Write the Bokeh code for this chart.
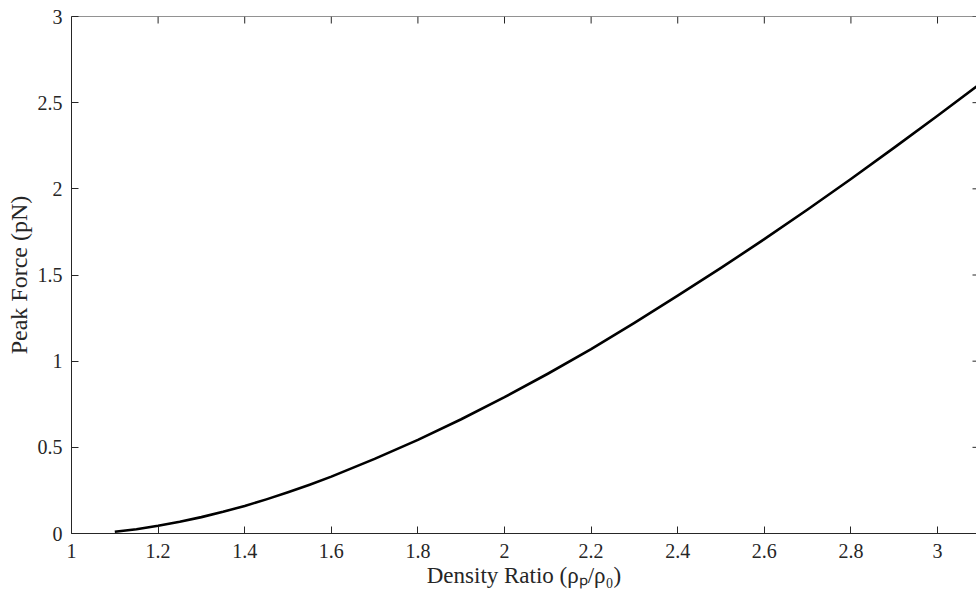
import math
from bokeh.plotting import figure
from bokeh.models import FixedTicker, Range1d, Span
from bokeh.embed import file_html
from bokeh.resources import INLINE

# Data
density_ratio = [1.1, 1.15, 1.2, 1.25, 1.3, 1.35, 1.4, 1.45, 1.5, 1.55, 1.6, 1.7, 1.8, 1.9, 2.0,
                 2.1, 2.2, 2.3, 2.4, 2.5, 2.6, 2.7, 2.8, 2.9, 3.0, 3.1]
peak_force = [0.01, 0.025, 0.045, 0.068, 0.095, 0.126, 0.16, 0.198, 0.239, 0.283, 0.33, 0.433,
              0.543, 0.663, 0.791, 0.927, 1.07, 1.222, 1.38, 1.541, 1.708, 1.88, 2.057, 2.239,
              2.424, 2.613]

x_ticks = [1, 1.2, 1.4, 1.6, 1.8, 2, 2.2, 2.4, 2.6, 2.8, 3]
x_tick_labels = ["1", "1.2", "1.4", "1.6", "1.8", "2", "2.2", "2.4", "2.6", "2.8", "3"]
y_ticks = [0, 0.5, 1, 1.5, 2, 2.5, 3]
y_tick_labels = ["0", "0.5", "1", "1.5", "2", "2.5", "3"]

X_MIN, X_MAX = 1.0, 3.09
Y_MIN, Y_MAX = 0.0, 3.0

AX = "#262626"
FONT = "Liberation Serif"

p = figure(width=976, height=606, output_backend="svg", toolbar_location=None,
           x_range=Range1d(X_MIN, X_MAX), y_range=Range1d(Y_MIN, Y_MAX),
           min_border_left=71, min_border_top=16, min_border_bottom=73, min_border_right=0)
p.outline_line_color = None
p.background_fill_color = "white"
p.border_fill_color = "white"
p.xgrid.visible = False
p.ygrid.visible = False

def style(ax, ticks, labels):
    ax.ticker = FixedTicker(ticks=ticks)
    ax.major_label_overrides = {t: l for t, l in zip(ticks, labels)}
    ax.minor_tick_line_color = None
    ax.major_tick_in = 7
    ax.major_tick_out = 0
    ax.major_tick_line_color = AX
    ax.major_tick_line_width = 1
    ax.axis_line_color = AX
    ax.axis_line_width = 1
    ax.major_label_text_font = FONT
    ax.major_label_text_color = AX
    ax.major_label_text_font_size = "20px"
    ax.axis_label_text_font = FONT
    ax.axis_label_text_font_style = "normal"
    ax.axis_label_text_color = AX

xa = p.xaxis[0]
style(xa, x_ticks, x_tick_labels)
xa.major_label_standoff = 10
xa.axis_label = "Density Ratio (ρₚ/ρ₀)"
xa.axis_label_text_font_size = "23px"
xa.axis_label_standoff = 2

ya = p.yaxis[0]
style(ya, y_ticks, y_tick_labels)
ya.major_label_standoff = 9
ya.axis_label = "Peak Force (pN)"
ya.axis_label_text_font_size = "24px"
ya.axis_label_standoff = 3

# box: top edge line and inward ticks on top and right sides
p.add_layout(Span(location=Y_MAX, dimension="width", line_color=AX, line_width=1))
p.ray(x=x_ticks, y=[Y_MAX] * len(x_ticks), length=7, length_units="screen",
      angle=-math.pi / 2, line_color=AX, line_width=1)
p.ray(x=[X_MAX] * len(y_ticks), y=y_ticks, length=4, length_units="screen",
      angle=math.pi, line_color=AX, line_width=1)

p.line(density_ratio, peak_force, line_color="black", line_width=2.6, line_join="round")

open("out.html", "w").write(file_html(p, INLINE))
